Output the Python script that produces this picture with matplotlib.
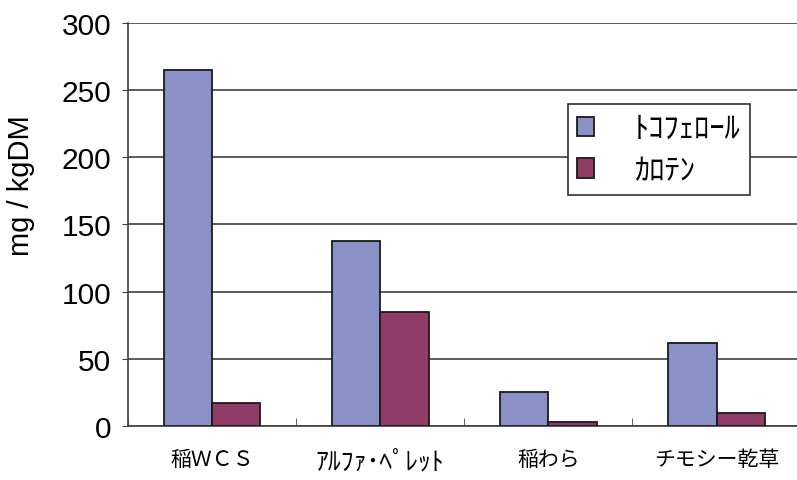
import matplotlib
matplotlib.use("Agg")
import matplotlib.pyplot as plt
import numpy as np

plt.rcParams['font.family'] = ['Noto Sans CJK JP', 'DejaVu Sans']

categories = ['稲ＷＣＳ', 'ｱﾙﾌｧ･ﾍﾟﾚｯﾄ', '稲わら', 'チモシー乾草']
tocopherol = [265, 138, 25, 62]
carotene = [17, 85, 3, 10]
series_names = ['ﾄｺﾌｪﾛｰﾙ', 'ｶﾛﾃﾝ']
yticks = [0, 50, 100, 150, 200, 250, 300]

latin = ['Liberation Sans', 'DejaVu Sans']

fig = plt.figure(figsize=(7.97, 4.81), dpi=100)
ax = fig.add_axes([0.1606, 0.1123, 0.844, 0.838])

x = np.arange(len(categories))
w = 0.287
ax.bar(x - w / 2, tocopherol, w, color='#8A91C6', edgecolor='#1a1a1a', linewidth=1.3,
       label=series_names[0], zorder=3)
ax.bar(x + w / 2, carotene, w, color='#903C66', edgecolor='#1a1a1a', linewidth=1.3,
       label=series_names[1], zorder=3)

ax.set_xlim(-0.5, len(categories) - 0.5)
ax.set_ylim(0, 300)
ax.set_yticks(yticks)
ax.set_yticklabels([str(v) for v in yticks], fontsize=21.5, family=latin)
ax.yaxis.grid(True, color='#404040', linewidth=1.2, zorder=0)

# category labels centered, tick marks on group boundaries
ax.set_xticks(x)
ax.set_xticklabels(categories, fontsize=15)
# half-width kana runs narrow, so bump its size
ax.get_xticklabels()[1].set_fontsize(18.5)
ax.tick_params(axis='x', length=0, pad=16)
ax.set_xticks(np.arange(len(categories) + 1) - 0.5, minor=True)
ax.tick_params(axis='x', which='minor', direction='in', length=6, color='#404040')
ax.tick_params(axis='y', direction='out', length=4, color='#404040', pad=8)

ax.set_ylabel('mg / kgDM', fontsize=21, family=latin)
ax.yaxis.set_label_coords(-0.138, 0.598)

for s in ['top', 'right']:
    ax.spines[s].set_visible(False)
for s in ['left', 'bottom']:
    ax.spines[s].set_color('#404040')
    ax.spines[s].set_linewidth(1.2)

leg = ax.legend(loc='upper left', bbox_to_anchor=(0.7127, 0.7817),
                bbox_transform=fig.transFigure, fontsize=22,
                frameon=True, fancybox=False, edgecolor='#303030',
                handlelength=0.55, handleheight=0.6, handletextpad=1.3,
                labelspacing=0.35, borderpad=0.3, borderaxespad=0, framealpha=1)
leg.get_frame().set_linewidth(1.2)

fig.savefig('out.png', dpi=100)
